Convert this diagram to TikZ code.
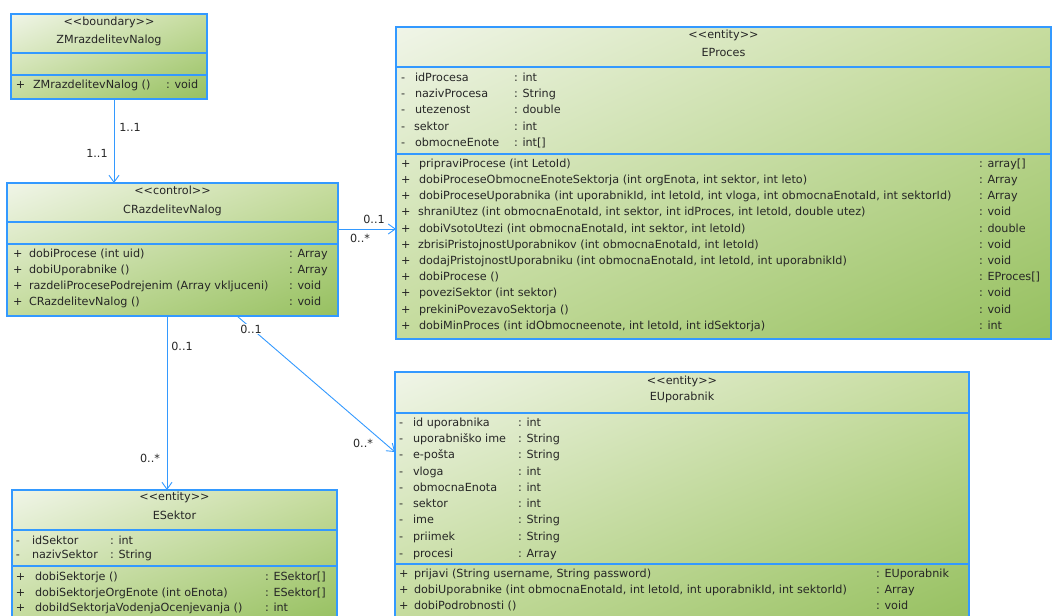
\documentclass[tikz,border=0pt]{standalone}
\usepackage{fontspec}
\setmainfont{DejaVu Sans}
\usetikzlibrary{arrows.meta,shadings}
\definecolor{umlblue}{RGB}{51,153,255}
\definecolor{gUL}{RGB}{240,245,232}
\definecolor{gUR}{RGB}{198,220,158}
\definecolor{gLL}{RGB}{196,219,156}
\definecolor{gLR}{RGB}{150,192,96}
\newcounter{tn}
\newcommand\ster[1]{<\kern0pt<#1>\kern0pt>}
\newcommand\tx[4][base west]{\stepcounter{tn}\node[txt,anchor=#1] (t\arabic{tn}) at (#2,{#3+3.9}) {#4};}
\tikzset{
  txt/.style={inner sep=0pt,outer sep=0pt,font=\fontsize{11.2}{13}\selectfont,text=black!85},
  umlbox/.style={draw=umlblue,line width=1.2pt,inner sep=0pt,outer sep=0pt,rectangle,
    upper left=gUL,upper right=gUR,lower left=gLL,lower right=gLR},
  sep/.style={draw=umlblue,line width=1.2pt},
  assoc/.style={draw=umlblue,line width=0.9pt,-{Straight Barb[length=7pt,width=10pt]}},
  mult/.style={inner sep=1pt,font=\fontsize{11.2}{13}\selectfont,text=black!85},
}
\begin{document}
\begin{tikzpicture}[x=1pt,y=-1pt]
\useasboundingbox (0,0) rectangle (1053,616);
% ---------------- boxes
\node[umlbox,minimum width=196pt,minimum height=85pt] (zm) at (109,56.5) {};
\node[umlbox,minimum width=331pt,minimum height=133pt] (ctl) at (172.5,249.5) {};
\node[umlbox,minimum width=655pt,minimum height=312pt] (ep) at (723.5,183) {};
\node[umlbox,minimum width=574pt,minimum height=250pt] (eu) at (682,497) {};
\node[umlbox,minimum width=325pt,minimum height=132pt] (es) at (174.5,556) {};
% compartment separators
\draw[sep] (zm.west |- 0,53) -- (zm.east |- 0,53);
\draw[sep] (zm.west |- 0,75) -- (zm.east |- 0,75);
\draw[sep] (ctl.west |- 0,222) -- (ctl.east |- 0,222);
\draw[sep] (ctl.west |- 0,244) -- (ctl.east |- 0,244);
\draw[sep] (ep.west |- 0,67) -- (ep.east |- 0,67);
\draw[sep] (ep.west |- 0,154) -- (ep.east |- 0,154);
\draw[sep] (eu.west |- 0,413) -- (eu.east |- 0,413);
\draw[sep] (eu.west |- 0,564) -- (eu.east |- 0,564);
\draw[sep] (es.west |- 0,530) -- (es.east |- 0,530);
\draw[sep] (es.west |- 0,566) -- (es.east |- 0,566);
% ---------------- ZMrazdelitevNalog
\tx[base]{109}{22}{\ster{boundary}}
\tx[base]{109}{40}{ZMrazdelitevNalog}
\tx{16}{85}{+}\tx{33}{85}{ZMrazdelitevNalog ()}\tx{166}{85}{: void}
% ---------------- CRazdelitevNalog
\tx[base]{172.5}{191}{\ster{control}}
\tx[base]{172.5}{210}{CRazdelitevNalog}
\tx{13}{254}{+}\tx{29}{254}{dobiProcese (int uid)}\tx{289}{254}{: Array}
\tx{13}{270}{+}\tx{29}{270}{dobiUporabnike ()}\tx{289}{270}{: Array}
\tx{13}{286}{+}\tx{29}{286}{razdeliProcesePodrejenim (Array vkljuceni)}\tx{289}{286}{: void}
\tx{13}{302}{+}\tx{29}{302}{CRazdelitevNalog ()}\tx{289}{302}{: void}
% ---------------- EProces
\tx[base]{723.5}{35}{\ster{entity}}
\tx[base]{723.5}{53}{EProces}
\tx{401}{78}{-}\tx{415}{78}{idProcesa}\tx{514}{78}{: int}
\tx{401}{94}{-}\tx{415}{94}{nazivProcesa}\tx{514}{94}{: String}
\tx{401}{110}{-}\tx{415}{110}{utezenost}\tx{514}{110}{: double}
\tx{401}{127}{-}\tx{414}{127}{sektor}\tx{514}{127}{: int}
\tx{401}{143}{-}\tx{415}{143}{obmocneEnote}\tx{514}{143}{: int[]}
\tx{401}{164}{+}\tx{419}{164}{pripraviProcese (int LetoId)}\tx{979}{164}{: array[]}
\tx{401}{180}{+}\tx{419}{180}{dobiProceseObmocneEnoteSektorja (int orgEnota, int sektor, int leto)}\tx{979}{180}{: Array}
\tx{401}{196}{+}\tx{419}{196}{dobiProceseUporabnika (int uporabnikId, int letoId, int vloga, int obmocnaEnotaId, int sektorId)}\tx{979}{196}{: Array}
\tx{401}{212}{+}\tx{418}{212}{shraniUtez (int obmocnaEnotaId, int sektor, int idProces, int letoId, double utez)}\tx{979}{212}{: void}
\tx{401}{229}{+}\tx{419}{229}{dobiVsotoUtezi (int obmocnaEnotaId, int sektor, int letoId)}\tx{979}{229}{: double}
\tx{401}{245}{+}\tx{418}{245}{zbrisiPristojnostUporabnikov (int obmocnaEnotaId, int letoId)}\tx{979}{245}{: void}
\tx{401}{261}{+}\tx{419}{261}{dodajPristojnostUporabniku (int obmocnaEnotaId, int letoId, int uporabnikId)}\tx{979}{261}{: void}
\tx{401}{277}{+}\tx{419}{277}{dobiProcese ()}\tx{979}{277}{: EProces[]}
\tx{401}{293}{+}\tx{419}{293}{poveziSektor (int sektor)}\tx{979}{293}{: void}
\tx{401}{310}{+}\tx{419}{310}{prekiniPovezavoSektorja ()}\tx{979}{310}{: void}
\tx{401}{326}{+}\tx{419}{326}{dobiMinProces (int idObmocneenote, int letoId, int idSektorja)}\tx{979}{326}{: int}
% ---------------- EUporabnik
\tx[base]{682}{381}{\ster{entity}}
\tx[base]{682}{397}{EUporabnik}
\tx{399}{423}{-}\tx{413}{423}{id uporabnika}\tx{518}{423}{: int}
\tx{399}{439}{-}\tx{413}{439}{uporabniško ime}\tx{518}{439}{: String}
\tx{399}{455}{-}\tx{413}{455}{e-pošta}\tx{518}{455}{: String}
\tx{399}{472}{-}\tx{413}{472}{vloga}\tx{518}{472}{: int}
\tx{399}{488}{-}\tx{413}{488}{obmocnaEnota}\tx{518}{488}{: int}
\tx{399}{504}{-}\tx{413}{504}{sektor}\tx{518}{504}{: int}
\tx{399}{520}{-}\tx{413}{520}{ime}\tx{518}{520}{: String}
\tx{399}{537}{-}\tx{413}{537}{priimek}\tx{518}{537}{: String}
\tx{399}{554}{-}\tx{413}{554}{procesi}\tx{518}{554}{: Array}
\tx{399}{574}{+}\tx{414}{574}{prijavi (String username, String password)}\tx{876}{574}{: EUporabnik}
\tx{399}{590}{+}\tx{414}{590}{dobiUporabnike (int obmocnaEnotaId, int letoId, int uporabnikId, int sektorId)}\tx{876}{590}{: Array}
\tx{399}{606}{+}\tx{414}{606}{dobiPodrobnosti ()}\tx{876}{606}{: void}
% ---------------- ESektor
\tx[base]{174.5}{497}{\ster{entity}}
\tx[base]{174.5}{516}{ESektor}
\tx{16}{541}{-}\tx{32}{541}{idSektor}\tx{110}{541}{: int}
\tx{16}{555}{-}\tx{32}{555}{nazivSektor}\tx{110}{555}{: String}
\tx{16}{577}{+}\tx{35}{577}{dobiSektorje ()}\tx{265}{577}{: ESektor[]}
\tx{16}{593}{+}\tx{35}{593}{dobiSektorjeOrgEnote (int oEnota)}\tx{265}{593}{: ESektor[]}
\tx{16}{608}{+}\tx{35}{608}{dobiIdSektorjaVodenjaOcenjevanja ()}\tx{265}{608}{: int}
% ---------------- connectors
\coordinate (ax) at (114,0);
\coordinate (by) at (0,229);
\coordinate (cx) at (167,0);
\coordinate (dx) at (237,0);
\coordinate (dy) at (0,452);
\draw[assoc] (zm.south -| ax) -- (ctl.north -| ax);
\draw[assoc] (ctl.east |- by) -- (ep.west |- by);
\draw[assoc] (ctl.south -| cx) -- (es.north -| cx);
\draw[assoc] (ctl.south -| dx) -- (eu.west |- dy);
% multiplicities
\node[mult] (m1) at (130,127) {1..1};
\node[mult] (m2) at (97,153) {1..1};
\node[mult] (m3) at (374,219) {0..1};
\node[mult] (m4) at (360,238) {0..*};
\node[mult] (m5) at (182,346) {0..1};
\node[mult] (m6) at (150,458) {0..*};
\node[mult,fill=white] (m7) at (251,329) {0..1};
\node[mult] (m8) at (363,443) {0..*};
\end{tikzpicture}
\end{document}
